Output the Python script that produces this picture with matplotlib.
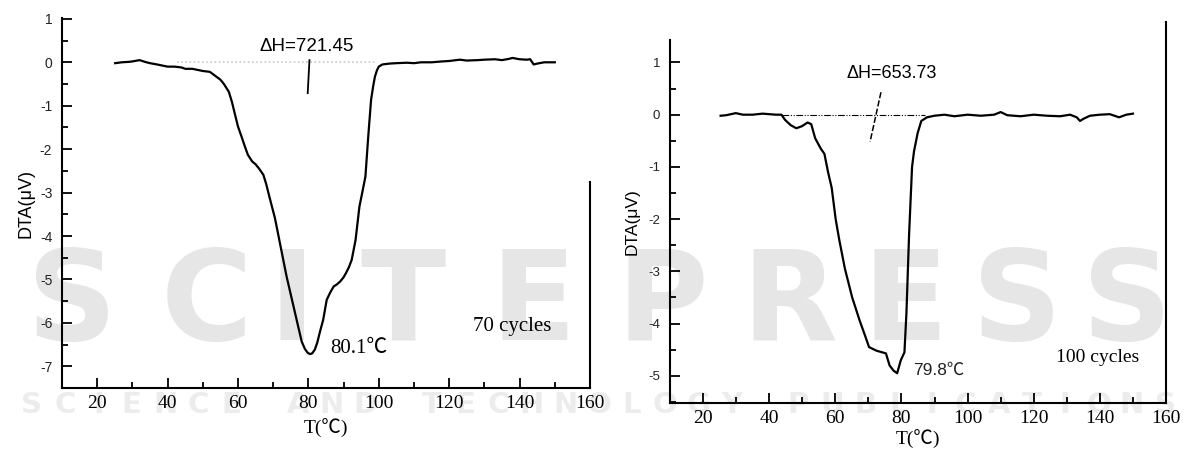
import matplotlib
matplotlib.use("Agg")
import matplotlib.pyplot as plt
from matplotlib.ticker import MultipleLocator
from matplotlib.lines import Line2D

plt.rcParams['axes.unicode_minus'] = False

# ---- data: 70 cycles ----
t70 = [25.1, 27, 29, 30, 32, 34, 35, 37, 40, 42, 44, 45, 47, 50, 52, 53, 55, 56, 57.4, 58.3, 59.2,
       60, 61, 62, 62.8, 64, 65, 66, 67.2, 68, 68.9, 70.5, 72.1, 73.8, 75, 76, 77, 78.1, 79, 79.8,
       80.5, 81.1, 81.8, 82.5, 83.3, 84.2, 85.2, 86.2, 87.2, 88, 89, 90, 90.7, 91.5, 92.3, 93.4,
       94.5, 95.3, 96.2, 97, 97.8, 98.4, 98.9, 99.5, 100, 101, 103, 105, 108, 110, 112, 115, 118,
       120, 122, 123, 125, 128, 130, 133, 135, 137, 138, 140, 142, 143, 144, 145, 147, 150]
d70 = [-0.02, 0.0, 0.01, 0.02, 0.05, 0.0, -0.02, -0.05, -0.1, -0.1, -0.12, -0.15, -0.15, -0.2, -0.22,
       -0.28, -0.4, -0.5, -0.68, -0.92, -1.22, -1.48, -1.71, -1.95, -2.13, -2.28, -2.35, -2.45, -2.59,
       -2.8, -3.09, -3.59, -4.24, -4.93, -5.35, -5.7, -6.05, -6.43, -6.6, -6.69, -6.72, -6.7, -6.62,
       -6.46, -6.2, -5.93, -5.47, -5.3, -5.16, -5.12, -5.05, -4.95, -4.85, -4.72, -4.55, -4.09,
       -3.32, -3.0, -2.63, -1.71, -0.87, -0.55, -0.33, -0.18, -0.1, -0.05, -0.03, -0.02, -0.01,
       -0.02, 0.0, 0.0, 0.02, 0.03, 0.05, 0.06, 0.04, 0.05, 0.06, 0.07, 0.05, 0.08, 0.1, 0.07, 0.06,
       0.07, -0.05, -0.03, 0.0, 0.0]

# ---- data: 100 cycles ----
t100 = [25.3, 27, 29.9, 32, 35, 38, 40, 42, 43.7, 44.8, 46.5, 48.2, 49.9, 51.6, 52.7, 53.9, 55.6,
        56.7, 57.8, 58.9, 60.1, 61.2, 62.9, 65.1, 67.4, 69.1, 70.2, 72.5, 75.3, 76.4, 77.6, 78.7,
        79.8, 80.9, 81.5, 82.3, 83.2, 83.8, 84.9, 86, 87.7, 90, 93, 96, 100, 104, 108, 110, 112,
        116, 120, 124, 128, 131, 133, 134, 135, 137, 140, 143, 145.8, 148, 150]
d100 = [-0.02, -0.01, 0.03, 0.0, 0.0, 0.02, 0.01, 0.0, 0.0, -0.1, -0.2, -0.26, -0.22, -0.15, -0.18,
        -0.45, -0.65, -0.75, -1.1, -1.4, -2.0, -2.4, -2.95, -3.5, -3.95, -4.25, -4.45, -4.52, -4.57,
        -4.8, -4.9, -4.95, -4.7, -4.55, -3.8, -2.3, -1.0, -0.7, -0.35, -0.12, -0.05, -0.02, 0.0,
        -0.03, 0.0, -0.02, 0.0, 0.05, -0.01, -0.03, 0.0, -0.02, -0.03, 0.0, -0.05, -0.12, -0.08,
        -0.02, 0.0, 0.01, -0.05, 0.0, 0.02]

xticks = [20, 40, 60, 80, 100, 120, 140, 160]
yticks70 = [-7, -6, -5, -4, -3, -2, -1, 0, 1]
yticks100 = [-5, -4, -3, -2, -1, 0, 1]

W, H = 1184, 450
fig = plt.figure(figsize=(W / 100, H / 100), dpi=100)
fig.patch.set_facecolor('white')

# ---- watermark (behind everything) ----
wm_big = "SCITEPRESS"
wm_big_x = [72, 207, 292, 403, 533, 662, 790, 905, 1017, 1127]
for ch, px in zip(wm_big, wm_big_x):
    fig.text(px / W, 1 - 340 / H, ch, fontsize=90, fontweight='bold', color='#e6e6e6',
             ha='center', va='baseline', family='DejaVu Sans', zorder=-5)
wm_small = "SCIENCE AND TECHNOLOGY PUBLICATIONS"
pitch = (1182 - 15) / len(wm_small)
for i, ch in enumerate(wm_small):
    if ch == ' ':
        continue
    fig.text((15 + (i + 0.5) * pitch) / W, 1 - 413 / H, ch, fontsize=21, fontweight='bold',
             color='#ececec', ha='center', va='baseline', family='DejaVu Sans', zorder=-5)

serif = ['Liberation Serif', 'DejaVu Serif']
sans = ['Liberation Sans', 'DejaVu Sans']
serif_c = ['Liberation Serif', 'Noto Sans CJK SC']
sans_c = ['Liberation Sans', 'Noto Sans CJK SC']


def style(ax, ylim, yticks, ylabsize):
    ax.set_facecolor('none')
    ax.set_xlim(10, 160)
    ax.set_ylim(*ylim)
    ax.set_xticks(xticks)
    ax.set_yticks(yticks)
    ax.xaxis.set_minor_locator(MultipleLocator(10))
    ax.yaxis.set_minor_locator(MultipleLocator(0.5))
    ax.tick_params(which='both', direction='in', top=False, right=False, width=1.3)
    ax.tick_params(which='major', length=7)
    ax.tick_params(which='minor', length=4)
    ax.tick_params(axis='x', pad=5)
    ax.tick_params(axis='y', pad=7)
    for s in ['top', 'right']:
        ax.spines[s].set_visible(False)
    for s in ['left', 'bottom']:
        ax.spines[s].set_linewidth(1.5)
    for lab in ax.get_xticklabels():
        lab.set_family(serif)
        lab.set_fontsize(14)
    for lab in ax.get_yticklabels():
        lab.set_family(sans)
        lab.set_fontsize(ylabsize)
        lab.set_color('#222222')


# ---- left panel ----
ax1 = fig.add_axes([62 / W, 1 - 388 / H, (590 - 62) / W, (388 - 18) / H])
style(ax1, (-7.5, 1.02), yticks70, 10)
ax1.plot([42.6, 98.9], [0, 0], color='#c8c8c8', lw=1.2, ls=(0, (1, 1.5)))
ax1.plot(t70, d70, color='black', lw=1.6)
ax1.plot([80.3, 79.8], [0.05, -0.71], color='black', lw=1.3)
ax1.text(79.5, 0.36, "ΔH=721.45", family=sans, fontsize=13.5, ha='center', va='center')
ax1.text(86.3, -6.58, "80.1℃", family=serif_c, fontsize=15, ha='left', va='center')
ax1.text(126.8, -6.08, "70 cycles", family=serif, fontsize=15, ha='left', va='center')
ax1.set_ylabel("DTA(μV)", family=sans, fontsize=13, labelpad=4)
ax1.set_xlabel("T(℃)", family=serif_c, fontsize=14, labelpad=5)
fig.add_artist(Line2D([590 / W, 590 / W], [1 - 182 / H, 1 - 388 / H], color='black', lw=1.5))

# ---- right panel ----
ax2 = fig.add_axes([670 / W, 1 - 403 / H, (1166 - 670) / W, (403 - 40) / H])
style(ax2, (-5.52, 1.43), yticks100, 9.5)
ax2.plot([44, 87], [0, 0], color='black', lw=0.8, ls=(0, (6, 1.5, 1, 1.5, 1, 1.5)))
ax2.plot(t100, d100, color='black', lw=1.6)
ax2.plot([73.8, 70.5], [0.43, -0.52], color='black', lw=1.1, ls=(0, (4, 1.5)))
ax2.text(77, 0.78, "ΔH=653.73", family=sans, fontsize=13, ha='center', va='center')
ax2.text(83.5, -4.9, "79.8℃", family=sans_c, fontsize=12.5, ha='left', va='center', color='#222222')
ax2.text(126.7, -4.65, "100 cycles", family=serif, fontsize=14, ha='left', va='center')
ax2.set_ylabel("DTA(μV)", family=sans, fontsize=12.5, labelpad=6)
ax2.set_xlabel("T(℃)", family=serif_c, fontsize=14, labelpad=2)
fig.add_artist(Line2D([1166 / W, 1166 / W], [1 - 22 / H, 1 - 403 / H], color='black', lw=1.5))

fig.savefig("out.png", dpi=100, facecolor='white')
